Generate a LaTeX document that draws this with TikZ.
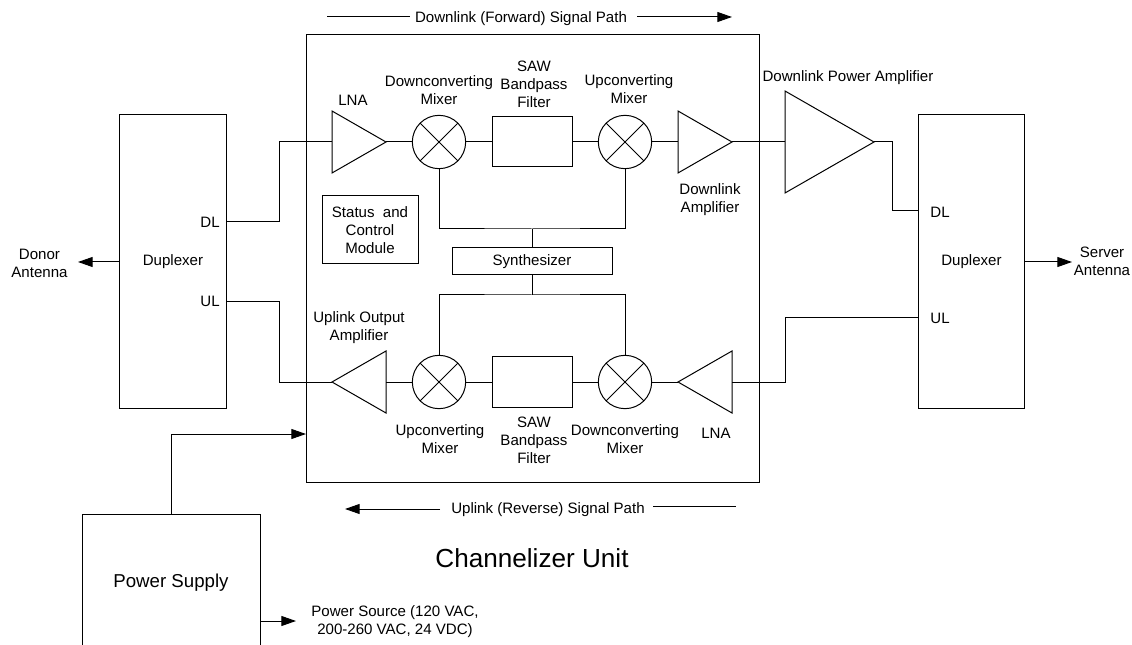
\documentclass[tikz,border=0pt]{standalone}
\usepackage{xcolor}
\usepackage{fontspec}
\setmainfont{Liberation Sans}
\usetikzlibrary{positioning,arrows.meta,shapes.geometric}

\tikzset{
    lbl/.style={align=center, inner sep=0pt, font=\fontsize{11.3}{13.5}\selectfont},
    block/.style={draw, inner sep=0pt, outer sep=0pt, align=center, font=\fontsize{11.3}{13.5}\selectfont},
    amp/.style={draw, isosceles triangle, isosceles triangle stretches, inner sep=0pt, outer sep=0pt,
        anchor=apex, minimum height=40.5pt, minimum width=46.5pt},
    mixer/.style={draw, circle, inner sep=0pt, outer sep=0pt, minimum size=40pt,
        path picture={
            \draw (path picture bounding box.north west) -- (path picture bounding box.south east);
            \draw (path picture bounding box.south west) -- (path picture bounding box.north east);
        }},
    sigarrow/.style={-{Triangle[length=11pt,width=7.5pt]}}
}

\begin{document}
\begin{tikzpicture}[x=0.75pt, y=-0.75pt, line width=0.75pt]
\useasboundingbox (0,0) rectangle (1132,645);

% Channelizer unit
\node[block, minimum width=339.75pt, minimum height=335.25pt] (unit) at (532.5,258.5) {};

% Duplexers
\node[block, minimum width=80pt, minimum height=219.75pt] (dupL) at (173,261.5) {Duplexer};
\node[block, minimum width=80pt, minimum height=219.75pt] (dupR) at (971.5,261.5) {Duplexer};
\node[lbl] (dlL) at (210,222) {DL};
\node[lbl] (ulL) at (210,301) {UL};
\node[lbl] (dlR) at (940,212) {DL};
\node[lbl] (ulR) at (940,318) {UL};
\coordinate (dlLport) at (226,222);
\coordinate (ulLport) at (226,302);
\coordinate (dlRport) at (918,211);
\coordinate (ulRport) at (918,318);
\coordinate (donorEnd) at (78,262);
\coordinate (serverEnd) at (1072,262);
\node[lbl] (donor) at (39.5,263) {Donor\\Antenna};
\node[lbl] (server) at (1102,261) {Server\\Antenna};

% Downlink row
\node[amp] (lnaD) at (386,142) {};
\node[mixer] (mixD1) at (439,142) {};
\node[block, minimum width=60pt, minimum height=37.5pt] (sawD) at (532,142) {};
\node[mixer] (mixD2) at (625,142) {};
\node[amp] (ampD) at (732,142) {};
\node[amp, minimum height=66.75pt, minimum width=76.5pt] (pa) at (874,142) {};

% Uplink row
\node[amp, shape border rotate=180] (ampU) at (332,382) {};
\node[mixer] (mixU1) at (439,382) {};
\node[block, minimum width=60pt, minimum height=37.5pt] (sawU) at (532,382) {};
\node[mixer] (mixU2) at (625,382) {};
\node[amp, shape border rotate=180] (lnaU) at (678,382) {};

% Synthesizer and status
\node[block, minimum width=120pt, minimum height=20.25pt] (synth) at (532,261.5) {Synthesizer};
\node[block, minimum width=72pt, minimum height=51pt] (status) at (370,230) {Status~~and\\Control\\Module};
\coordinate (busD) at (532,229);
\coordinate (busU) at (532,295);

% Power
\node[block, minimum width=133.5pt, minimum height=102.75pt, font=\fontsize{14}{16}\selectfont] (psu) at (171,582.5) {Power Supply};
\coordinate (psuOut) at (171,434);
\coordinate (psuPort) at (260,621);
\coordinate (sourceEnd) at (296,621);
\node[lbl] (source) at (395,622) {Power Source (120 VAC,\\200-260 VAC, 24 VDC)};

% Signal chain
\draw (dlLport) -| (279,142) -- (lnaD.lower side);
\draw (lnaD.apex) -- (mixD1);
\draw (mixD1) -- (sawD);
\draw (sawD) -- (mixD2);
\draw (mixD2) -- (ampD.lower side);
\draw (ampD.apex) -- (pa.lower side);
\draw (pa.apex) -| (892,211) -- (dlRport);
\draw (ulRport) -| (785,382) -- (lnaU.lower side);
\draw (lnaU.apex) -- (mixU2);
\draw (mixU2) -- (sawU);
\draw (sawU) -- (mixU1);
\draw (mixU1) -- (ampU.lower side);
\draw (ampU.apex) -| (279,302) -- (ulLport);

% Synthesizer feeds
\draw (mixD1) |- (busD) -| (mixD2);
\draw (busD) -- (synth);
\draw (mixU1) |- (busU) -| (mixU2);
\draw (busU) -- (synth);

% Antennas and power
\draw[sigarrow] (dupL.west |- donorEnd) -- (donorEnd);
\draw[sigarrow] (dupR.east |- serverEnd) -- (serverEnd);
\draw[sigarrow] (psu.north) -- (psuOut) -- (unit.west |- psuOut);
\draw[sigarrow] (psuPort) -- (sourceEnd);

% Labels
\node[lbl] (lblLnaD) at (353,100) {LNA};
\node[lbl] (lblMixD1) at (439,90) {Downconverting\\Mixer};
\node[lbl] (lblSawD) at (534,84) {SAW\\Bandpass\\Filter};
\node[lbl] (lblMixD2) at (629,89) {Upconverting\\Mixer};
\node[lbl] (lblAmpD) at (710,200) {Downlink\\Amplifier};
\node[lbl] (lblPa) at (848,77.5) {Downlink Power Amplifier};
\node[lbl] (lblAmpU) at (359,328) {Uplink Output\\Amplifier};
\node[lbl] (lblMixU1) at (440,439) {Upconverting\\Mixer};
\node[lbl] (lblSawU) at (534,440) {SAW\\Bandpass\\Filter};
\node[lbl] (lblMixU2) at (625,439) {Downconverting\\Mixer};
\node[lbl] (lblLnaU) at (716,433) {LNA};

% Signal path captions
\node[lbl] (pathD) at (521,19) {Downlink (Forward) Signal Path};
\coordinate (pathDstart) at (327,17);
\coordinate (pathDstop) at (410,17);
\coordinate (pathDbegin) at (637,17);
\coordinate (pathDend) at (732,17);
\draw (pathDstart) -- (pathDstop);
\draw[sigarrow] (pathDbegin) -- (pathDend);
\node[lbl] (pathU) at (548,510) {Uplink (Reverse) Signal Path};
\coordinate (pathUbegin) at (440,509);
\coordinate (pathUend) at (345,509);
\coordinate (pathUstart) at (653,506);
\coordinate (pathUstop) at (736,506);
\draw[sigarrow] (pathUbegin) -- (pathUend);
\draw (pathUstart) -- (pathUstop);
\node[lbl, font=\fontsize{19.6}{22}\selectfont] (title) at (532,558) {Channelizer Unit};
\end{tikzpicture}
\end{document}
